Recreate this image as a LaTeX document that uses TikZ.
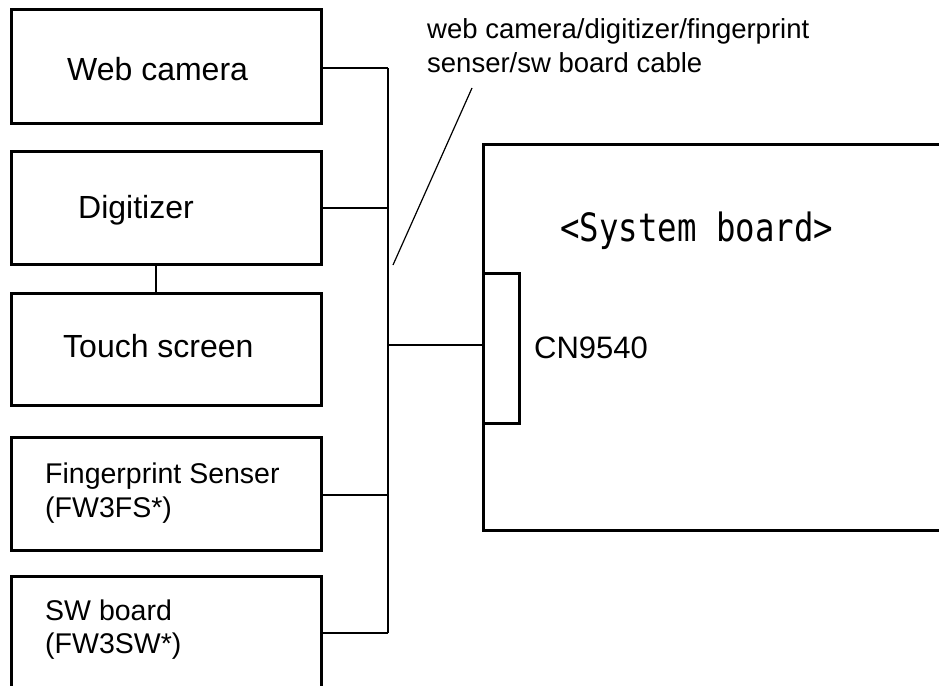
\documentclass[tikz,border=0pt]{standalone}
\usepackage{fontspec}
\setmainfont{Liberation Sans}
\newfontfamily\gothic[FakeStretch=0.83]{DejaVu Sans Mono}
\begin{document}
\begin{tikzpicture}[x=1pt,y=-1pt,
  box/.style={draw,line width=2.6pt,rectangle,inner sep=0pt,anchor=north west},
  wire/.style={line width=1.8pt},
  lead/.style={line width=1.2pt},
  txt/.style={inner sep=0pt,anchor=base west},
  big/.style={font=\fontsize{32}{32}\selectfont},
  mid/.style={font=\fontsize{28.5}{28.5}\selectfont},
  small/.style={font=\fontsize{27.5}{27.5}\selectfont},
  sysfont/.style={font=\gothic\fontsize{39}{39}\selectfont}]
\useasboundingbox (0,0) rectangle (939,685);
\clip (0,0) rectangle (939,685);
\fill[white] (0,0) rectangle (939,685);
% boxes
\node[box,minimum width=310pt,minimum height=114pt] (webbox) at (10,8) {};
\node[box,minimum width=310pt,minimum height=113pt] (digbox) at (10,150) {};
\node[box,minimum width=310pt,minimum height=112pt] (touchbox) at (10,292) {};
\node[box,minimum width=310pt,minimum height=113pt] (fpbox) at (10,436) {};
\node[box,minimum width=310pt,minimum height=140pt] (swbox) at (10,575) {};
\node[box,minimum width=490pt,minimum height=386pt] (sbbox) at (482,143) {};
\node[box,minimum width=36pt,minimum height=150pt] (cnbox) at (482,272) {};
% texts
\node[txt,big] (webtxt) at (67,80) {Web camera};
\node[txt,big] (digtxt) at (78,218) {Digitizer};
\node[txt,big] (touchtxt) at (63,357) {Touch screen};
\node[txt,mid] (fptxt1) at (45,483) {Fingerprint Senser};
\node[txt,mid] (fptxt2) at (45,517) {(FW3FS*)};
\node[txt,mid] (swtxt1) at (45,620) {SW board};
\node[txt,mid] (swtxt2) at (45,653) {(FW3SW*)};
\node[txt,small] (cabtxt1) at (427,39) {web camera/digitizer/fingerprint};
\node[txt,small] (cabtxt2) at (427,72) {senser/sw board cable};
\node[txt,big,font=\fontsize{31}{31}\selectfont] (cntxt) at (534,358) {CN9540};
\node[txt,sysfont] (sbtxt) at (560,241) {<System board>};
% bus
\coordinate (bustop) at (388,68);
\coordinate (busdig) at (388,208);
\coordinate (busmid) at (388,345);
\coordinate (busfp) at (388,495);
\coordinate (busbot) at (388,633);
\draw[wire] (bustop) -- (busbot);
\draw[wire] (bustop) -- (bustop -| webbox.east);
\draw[wire] (busdig) -- (busdig -| digbox.east);
\draw[wire] (busfp) -- (busfp -| fpbox.east);
\draw[wire] (busbot) -- (busbot -| swbox.east);
\draw[wire] (busmid) -- (busmid -| cnbox.west);
\draw[wire] ([xshift=-10pt]digbox.south) -- ([xshift=-10pt]touchbox.north);
% leader
\coordinate (lead1) at (472,88);
\coordinate (lead2) at (393,265);
\draw[lead] (lead1) -- (lead2);
\end{tikzpicture}
\end{document}
